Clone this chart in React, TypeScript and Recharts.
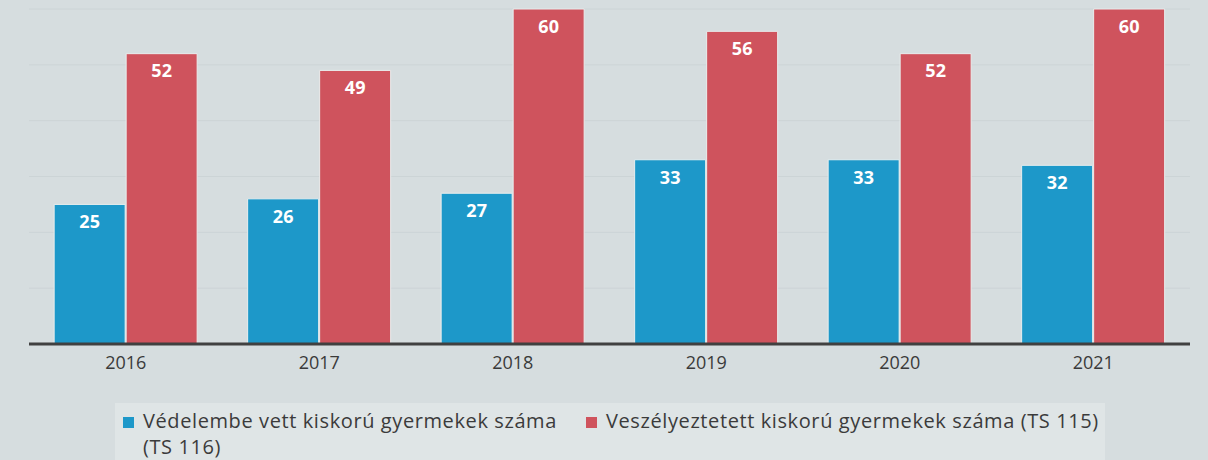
import { BarChart, Bar, XAxis, YAxis, CartesianGrid, Legend, LabelList } from "recharts";

const YEARS = ["2016", "2017", "2018", "2019", "2020", "2021"];
const VEDELEMBE = [25, 26, 27, 33, 33, 32];
const VESZELYEZTETETT = [52, 49, 60, 56, 52, 60];
const Y_TICKS = [0, 10, 20, 30, 40, 50, 60];

const SERIES = [
  { key: "vedelembe", label: "Védelembe vett kiskorú gyermekek száma (TS 116)", color: "#1d98c9" },
  { key: "veszely", label: "Veszélyeztetett kiskorú gyermekek száma (TS 115)", color: "#cf535d" },
];

const data = YEARS.map((year, i) => ({
  year,
  vedelembe: VEDELEMBE[i],
  veszely: VESZELYEZTETETT[i],
}));

const FONT = "'Open Sans', sans-serif";

function LegendBox() {
  return (
    <div
      style={{
        display: "flex",
        alignItems: "flex-start",
        background: "#dfe5e6",
        height: 57,
        padding: "5px 0 0 8px",
        boxSizing: "border-box",
        fontFamily: FONT,
        fontSize: 20,
        letterSpacing: 0.6,
        lineHeight: "26px",
        color: "#3b3b3b",
      }}
    >
      {SERIES.map((s, i) => (
        <div
          key={s.key}
          style={{ display: "flex", alignItems: "flex-start", width: i === 0 ? 463 : undefined }}
        >
          <span
            style={{
              display: "inline-block",
              width: 11,
              height: 11,
              marginTop: 9,
              marginRight: 9,
              background: s.color,
              flexShrink: 0,
            }}
          />
          <span style={{ maxWidth: i === 0 ? 425 : undefined, whiteSpace: i === 0 ? "normal" : "nowrap" }}>
            {s.label}
          </span>
        </div>
      ))}
    </div>
  );
}

export default function App() {
  return (
    <div style={{ position: "absolute", left: 0, top: 0, width: 1208, height: 460, background: "#d6dddf" }}>
      <BarChart
        width={1208}
        height={460}
        data={data}
        margin={{ top: 9, right: 18, left: 29, bottom: 0 }}
        barCategoryGap="13%"
        barGap={1}
      >
        <CartesianGrid vertical={false} stroke="#ccd4d6" />
        <YAxis hide domain={[0, 60]} ticks={Y_TICKS} />
        <XAxis
          dataKey="year"
          height={59}
          tickLine={false}
          tickMargin={6}
          axisLine={{ stroke: "#404040", strokeWidth: 3 }}
          tick={{ fontSize: 18, fill: "#3a3a3a", fontFamily: FONT }}
        />
        <Legend
          verticalAlign="bottom"
          height={57}
          wrapperStyle={{ left: 115, width: 990, bottom: 0 }}
          content={() => <LegendBox />}
        />
        {SERIES.map((s) => (
          <Bar
            key={s.key}
            dataKey={s.key}
            name={s.label}
            fill={s.color}
            stroke="#e9eeee"
            strokeWidth={1}
            isAnimationActive={false}
          >
            <LabelList
              dataKey={s.key}
              position="insideTop"
              offset={11}
              fill="#ffffff"
              style={{ fontSize: 18, fontWeight: 700, fontFamily: FONT }}
            />
          </Bar>
        ))}
      </BarChart>
    </div>
  );
}
